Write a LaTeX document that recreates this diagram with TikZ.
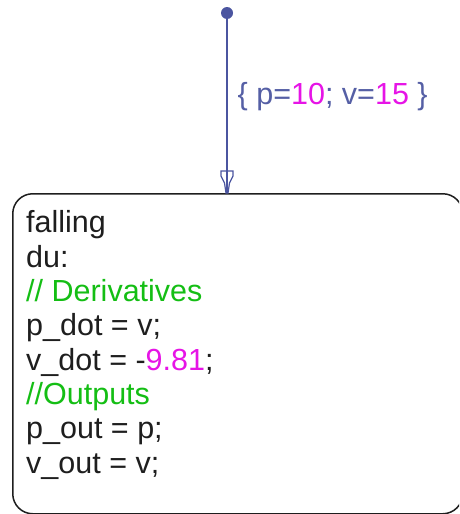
\documentclass[tikz,border=0pt]{standalone}
\usepackage{fontspec}
\setmainfont{Liberation Sans}
\definecolor{tcol}{RGB}{30,30,30}
\definecolor{cgreen}{RGB}{20,190,20}
\definecolor{cmag}{RGB}{230,20,230}
\definecolor{lblue}{RGB}{85,95,165}
\definecolor{tblue}{RGB}{75,85,160}
\begin{document}
\begin{tikzpicture}[x=1pt,y=-1pt,
  statebox/.style={draw=tcol, line width=1.5pt, rounded corners=20pt, inner sep=0pt, fill=none},
  codefont/.style={font=\fontsize{30.5}{34.3}\selectfont},
  tline/.style={draw=tblue, line width=1.4pt},
  ]
\clip (0,0) rectangle (459,514);
\node[statebox, minimum width=450pt, minimum height=320pt, anchor=north west] (falling) at (12,193) {};
\node[codefont, anchor=base west, align=left, inner sep=0pt, text=tcol] (body) at (26,473)
  {falling\\
   du:\\
   \textcolor{cgreen}{// Derivatives}\\
   p\_dot = v;\\
   v\_dot = -\textcolor{cmag}{9.81};\\
   \textcolor{cgreen}{//Outputs}\\
   p\_out = p;\\
   v\_out = v;};
\node[circle, fill=tblue, inner sep=0pt, minimum size=12pt] (init) at (227,13) {};
\coordinate (tip) at (falling.north -| init);
\draw[tline] (init) -- (tip);
\draw[tline, line width=1.2pt, shift={(tip)}] (-6,-22) -- (6,-22) -- (6,-17) -- (2.5,-10) -- (1,0) -- (-1,0) -- (-2.5,-10) -- (-6,-17) -- cycle;
\node[codefont, anchor=base west, inner sep=0pt, text=lblue] (lbl) at (237.5,104)
  {\{ p=\textcolor{cmag}{10}; v=\textcolor{cmag}{15} \}};
\end{tikzpicture}
\end{document}
